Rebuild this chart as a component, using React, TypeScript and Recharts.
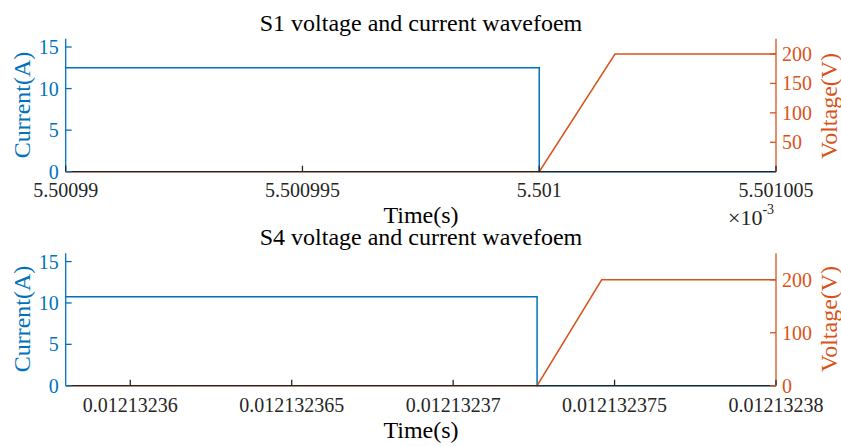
import { ComposedChart, Line, XAxis, YAxis } from 'recharts'

const BLUE = '#0072BD'
const ORANGE = '#D95319'
const DARK = '#262626'
const FONT = '"Liberation Serif", "Times New Roman", serif'

// S1 panel, time in ms (axis carries the ×10^-3 factor)
const s1Time = [5.50099, 5.501, 5.501, 5.5010016, 5.501005]
const s1Current = [12.5, 12.5, 0, 0, 0]
const s1Voltage = [0, 0, 0, 200, 200]
const s1TimeTicks = [5.50099, 5.500995, 5.501, 5.501005]
const s1CurrentTicks = [0, 5, 10, 15]
const s1VoltageTicks = [50, 100, 150, 200]

// S4 panel, time in s
const s4Time = [0.012132358, 0.0121323726, 0.0121323726, 0.0121323746, 0.01213238]
const s4Current = [10.75, 10.75, 0, 0, 0]
const s4Voltage = [0, 0, 0, 200, 200]
const s4TimeTicks = [0.01213236, 0.012132365, 0.01213237, 0.012132375, 0.01213238]
const s4CurrentTicks = [0, 5, 10, 15]
const s4VoltageTicks = [0, 100, 200]

const fmtTime = (v: number) => String(Number(v.toPrecision(9)))

const BottomTick = (labelDy: number) => (props: any) => {
  const { x, y, payload } = props
  return (
    <g>
      <line x1={x} x2={x} y1={y} y2={y - 6} stroke={DARK} strokeWidth={1.3} />
      <text x={x} y={y + labelDy} textAnchor="middle" fill={DARK} fontSize={20} fontFamily={FONT}>
        {fmtTime(payload.value)}
      </text>
    </g>
  )
}

const TopTick = (props: any) => {
  const { x, y } = props
  return <line x1={x} x2={x} y1={y} y2={y + 6} stroke={DARK} strokeWidth={1.3} />
}

const LeftTick = (props: any) => {
  const { x, y, payload } = props
  return (
    <g>
      <line x1={x} x2={x + 6} y1={y} y2={y} stroke={BLUE} strokeWidth={1.3} />
      <text x={x - 7} y={y + 7} textAnchor="end" fill={BLUE} fontSize={20} fontFamily={FONT}>
        {payload.value}
      </text>
    </g>
  )
}

const RightTick = (props: any) => {
  const { x, y, payload } = props
  return (
    <g>
      <line x1={x} x2={x - 6} y1={y} y2={y} stroke={ORANGE} strokeWidth={1.3} />
      <text x={x + 6} y={y + 7} textAnchor="start" fill={ORANGE} fontSize={20} fontFamily={FONT}>
        {payload.value}
      </text>
    </g>
  )
}

interface PanelProps {
  time: number[]
  current: number[]
  voltage: number[]
  timeTicks: number[]
  currentTicks: number[]
  voltageTicks: number[]
  timeDomain: [number, number]
  voltageDomain: [number, number]
  marginTop: number
  axisHeight: number
  labelDy: number
}

const Panel = (p: PanelProps) => {
  const data = p.time.map((t, i) => ({ t, current: p.current[i], voltage: p.voltage[i] }))
  return (
    <ComposedChart
      width={841}
      height={223}
      data={data}
      margin={{ top: p.marginTop, right: 0, bottom: 0, left: 0 }}
    >
      <XAxis
        xAxisId="b"
        dataKey="t"
        type="number"
        domain={p.timeDomain}
        ticks={p.timeTicks}
        interval={0}
        allowDataOverflow
        height={p.axisHeight}
        tickSize={0}
        tickMargin={0}
        tick={BottomTick(p.labelDy)}
        axisLine={{ stroke: DARK, strokeWidth: 1.3 }}
      />
      <XAxis
        xAxisId="t"
        orientation="top"
        dataKey="t"
        type="number"
        domain={p.timeDomain}
        ticks={p.timeTicks}
        interval={0}
        allowDataOverflow
        height={0}
        tickSize={0}
        tickMargin={0}
        tick={TopTick}
        axisLine={{ stroke: DARK, strokeWidth: 1.3 }}
      />
      <YAxis
        yAxisId="i"
        type="number"
        domain={[0, 16]}
        ticks={p.currentTicks}
        interval={0}
        width={65.7}
        tickSize={0}
        tickMargin={0}
        tick={LeftTick}
        axisLine={{ stroke: BLUE, strokeWidth: 1.3 }}
      />
      <YAxis
        yAxisId="v"
        orientation="right"
        type="number"
        domain={p.voltageDomain}
        ticks={p.voltageTicks}
        interval={0}
        width={65}
        tickSize={0}
        tickMargin={0}
        tick={RightTick}
        axisLine={{ stroke: ORANGE, strokeWidth: 1.3 }}
      />
      <Line
        xAxisId="b"
        yAxisId="i"
        type="linear"
        dataKey="current"
        stroke={BLUE}
        strokeWidth={1.5}
        dot={false}
        isAnimationActive={false}
      />
      <Line
        xAxisId="b"
        yAxisId="v"
        type="linear"
        dataKey="voltage"
        stroke={ORANGE}
        strokeWidth={1.5}
        dot={false}
        isAnimationActive={false}
      />
    </ComposedChart>
  )
}

const App = () => {
  return (
    <div style={{ position: 'absolute', left: 0, top: 0, width: 841, height: 446, background: '#fff' }}>
      <div style={{ position: 'absolute', left: 0, top: 0 }}>
        <Panel
          time={s1Time}
          current={s1Current}
          voltage={s1Voltage}
          timeTicks={s1TimeTicks}
          currentTicks={s1CurrentTicks}
          voltageTicks={s1VoltageTicks}
          timeDomain={[5.50099, 5.501005]}
          voltageDomain={[0, 226]}
          marginTop={38.7}
          axisHeight={51.3}
          labelDy={25}
        />
      </div>
      <div style={{ position: 'absolute', left: 0, top: 223 }}>
        <Panel
          time={s4Time}
          current={s4Current}
          voltage={s4Voltage}
          timeTicks={s4TimeTicks}
          currentTicks={s4CurrentTicks}
          voltageTicks={s4VoltageTicks}
          timeDomain={[0.012132358, 0.01213238]}
          voltageDomain={[0, 250]}
          marginTop={30.3}
          axisHeight={60.3}
          labelDy={26}
        />
      </div>
      <svg
        width={841}
        height={446}
        style={{ position: 'absolute', left: 0, top: 0, pointerEvents: 'none' }}
        fontFamily={FONT}
      >
        <text x={421} y={31} textAnchor="middle" fontSize={24} fill="#000">S1 voltage and current wavefoem</text>
        <text x={421} y={223} textAnchor="middle" fontSize={24} fill="#000">Time(s)</text>
        <text x={728} y={225} fontSize={22} fill={DARK}>
          ×10<tspan dy={-11} fontSize={14}>-3</tspan>
        </text>
        <text transform="translate(30,105) rotate(-90)" textAnchor="middle" fontSize={24} fill={BLUE}>Current(A)</text>
        <text transform="translate(837,106) rotate(-90)" textAnchor="middle" fontSize={24} fill={ORANGE}>Voltage(V)</text>

        <text x={421} y={245} textAnchor="middle" fontSize={24} fill="#000">S4 voltage and current wavefoem</text>
        <text x={421} y={438} textAnchor="middle" fontSize={24} fill="#000">Time(s)</text>
        <text transform="translate(30,319) rotate(-90)" textAnchor="middle" fontSize={24} fill={BLUE}>Current(A)</text>
        <text transform="translate(837,319) rotate(-90)" textAnchor="middle" fontSize={24} fill={ORANGE}>Voltage(V)</text>
      </svg>
    </div>
  )
}

export default App
